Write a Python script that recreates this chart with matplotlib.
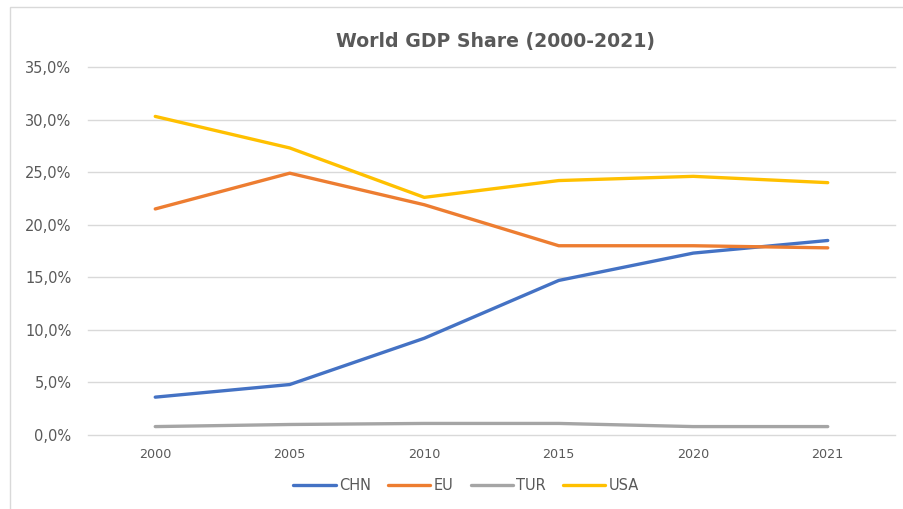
import matplotlib.pyplot as plt
from matplotlib.patches import Rectangle
from matplotlib.ticker import FuncFormatter

years = ["2000", "2005", "2010", "2015", "2020", "2021"]
chn = [3.6, 4.8, 9.2, 14.7, 17.3, 18.5]
eu = [21.5, 24.9, 21.9, 18.0, 18.0, 17.8]
tur = [0.8, 1.0, 1.1, 1.1, 0.8, 0.8]
usa = [30.3, 27.3, 22.6, 24.2, 24.6, 24.0]

series = [("CHN", chn, "#4472C4"), ("EU", eu, "#ED7D31"),
          ("TUR", tur, "#A5A5A5"), ("USA", usa, "#FFC000")]

plt.rcParams['font.family'] = ['DejaVu Sans']

fig = plt.figure(figsize=(9.04, 5.09), dpi=100)
ax = fig.add_axes([88 / 904, 1 - 435 / 509, (895 - 88) / 904, (435 - 67) / 509])

x = range(len(years))
for name, vals, color in series:
    ax.plot(x, vals, color=color, lw=2.4, label=name, solid_capstyle='round')

ax.set_xlim(-0.5, len(years) - 0.5)
ax.set_ylim(0, 35)
ax.set_yticks(range(0, 36, 5))
ax.yaxis.set_major_formatter(FuncFormatter(lambda v, p: f"{v:.1f}%".replace(".", ",")))
ax.set_xticks(list(x))
ax.set_xticklabels(years)
ax.grid(axis='y', color='#D9D9D9', lw=1)
for gl in ax.get_ygridlines():
    gl.set_clip_on(False)
ax.set_axisbelow(True)
for s in ax.spines.values():
    s.set_visible(False)
ax.tick_params(length=0, colors='#595959', labelsize=10.5)
ax.tick_params(axis='x', pad=9, labelsize=9.2)
ax.tick_params(axis='y', pad=12)

fig.text(495 / 904, 1 - 42 / 509, "World GDP Share (2000-2021)", ha='center', va='center',
         fontsize=13.6, fontweight='bold', color='#595959')

leg = fig.legend(loc='center', bbox_to_anchor=(466 / 904, 1 - 486 / 509), ncol=4, frameon=False,
                 fontsize=10.5, handlelength=2.9, handletextpad=0.2, columnspacing=1.2)
for t in leg.get_texts():
    t.set_color('#595959')

# chart area frame (runs off the right and bottom edges)
fig.patches.append(Rectangle((10 / 904, -0.01), 1.0, 1 - 7 / 509 + 0.01,
                             transform=fig.transFigure, fill=False, ec='#D9D9D9', lw=1))

fig.savefig("out.png", dpi=100)
